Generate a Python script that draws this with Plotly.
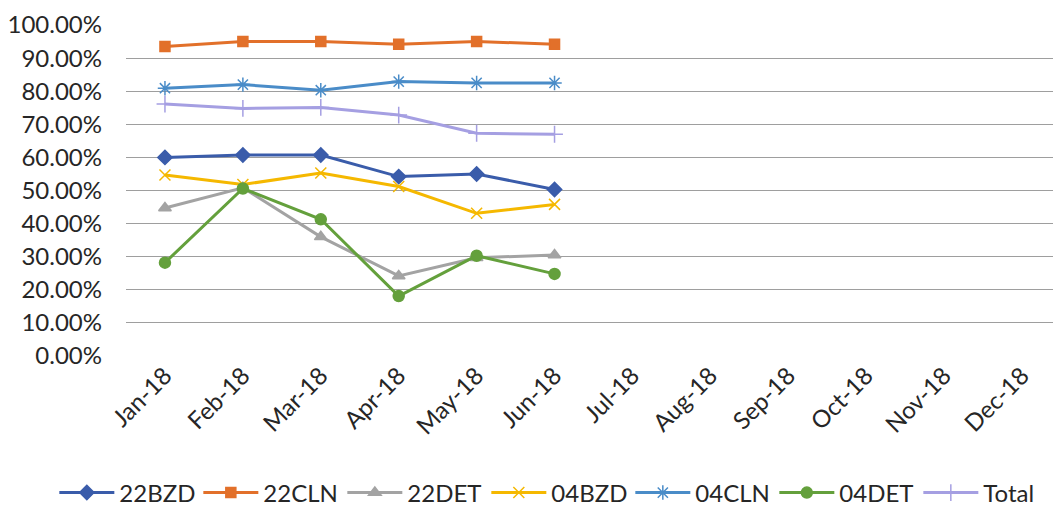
import plotly.graph_objects as go

months = ["Jan-18", "Feb-18", "Mar-18", "Apr-18", "May-18", "Jun-18",
          "Jul-18", "Aug-18", "Sep-18", "Oct-18", "Nov-18", "Dec-18"]
observed = months[:6]

s_22BZD = [0.600, 0.607, 0.607, 0.542, 0.550, 0.503]
s_22CLN = [0.935, 0.950, 0.950, 0.942, 0.950, 0.942]
s_22DET = [0.447, 0.508, 0.360, 0.242, 0.297, 0.305]
s_04BZD = [0.547, 0.518, 0.553, 0.512, 0.431, 0.458]
s_04CLN = [0.809, 0.820, 0.803, 0.829, 0.825, 0.825]
s_04DET = [0.282, 0.506, 0.413, 0.181, 0.303, 0.248]
s_Total = [0.761, 0.748, 0.751, 0.728, 0.673, 0.670]

series = [
    ("22BZD", s_22BZD, "#3A5CAA", "diamond", 11),
    ("22CLN", s_22CLN, "#E2702A", "square", 10),
    ("22DET", s_22DET, "#A3A3A3", "triangle-up", 11),
    ("04BZD", s_04BZD, "#F5B800", "x-thin-open", 11),
    ("04CLN", s_04CLN, "#4A8CC8", "asterisk-open", 12),
    ("04DET", s_04DET, "#64A03C", "circle", 11),
    ("Total", s_Total, "#A59FE2", "cross-thin-open", 12),
]

font_family = "Lato, 'Open Sans', sans-serif"

# the page body adds an 8px offset, so the figure is sized to fit the window
W, H = 1053, 501

fig = go.Figure()
for name, vals, color, sym, size in series:
    fig.add_trace(go.Scatter(
        x=observed, y=vals, name=name, mode="lines+markers",
        line=dict(color=color, width=3),
        marker=dict(symbol=sym, size=size, color=color,
                    line=dict(color=color, width=1.5)),
    ))

fig.update_layout(
    width=W, height=H,
    margin=dict(l=0, r=0, t=17, b=153, autoexpand=False),
    paper_bgcolor="white", plot_bgcolor="white",
    font=dict(family=font_family, size=24, color="#262626"),
    showlegend=True,
    legend=dict(
        orientation="h", xref="container", yref="container",
        x=0.044, xanchor="left", y=0.032, yanchor="middle",
        font=dict(size=24, color="#262626"),
        entrywidth=74, entrywidthmode="pixels",
        itemwidth=55, tracegroupgap=0,
        bgcolor="rgba(0,0,0,0)",
    ),
    xaxis=dict(
        type="category", categoryorder="array", categoryarray=months,
        tickmode="array", tickvals=months, ticktext=months,
        domain=[118 / W, 1.0],
        range=[-0.5, 11.5], tickangle=-45, automargin=False,
        showgrid=False, showline=False, zeroline=False,
        ticks="", tickfont=dict(size=24, color="#262626"),
    ),
    yaxis=dict(
        range=[0, 1.0], dtick=0.1, tickformat=".2%", automargin=False,
        showgrid=True, gridcolor="#9E9E9E", gridwidth=1,
        zeroline=False, showline=False, ticks="",
        ticklabelstandoff=23,
        tickfont=dict(size=24, color="#262626"),
    ),
)

fig.write_html("out.html")
